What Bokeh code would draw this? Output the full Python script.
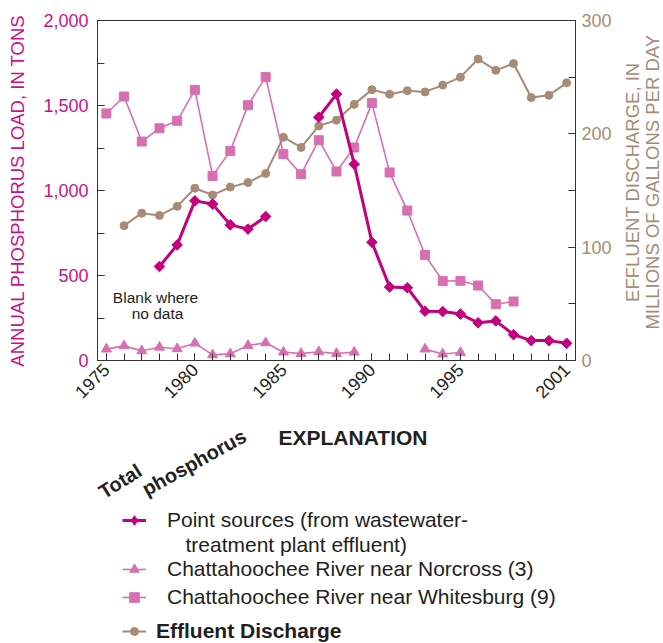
import math
from bokeh.plotting import figure
from bokeh.layouts import column, row
from bokeh.models import (Range1d, LinearAxis, FixedTicker, NumeralTickFormatter,
                          Label, Legend, LegendItem)
from bokeh.embed import file_html
from bokeh.resources import INLINE

nan = float("nan")

# ---------------- data ----------------
years = list(range(1975, 2002))
major_years = [1975, 1980, 1985, 1990, 1995, 2001]

point_sources = [nan, nan, nan, 553, 680, 939, 920, 798, 773, 847, nan, nan,
                 1431, 1567, 1155, 696, 432, 428, 290, 288, 273, 222, 233,
                 152, 117, 117, 101]
norcross = [67, 86, 57, 78, 69, 102, 33, 39, 88, 104, 49, 41, 51, 41, 49,
            nan, nan, nan, 67, 38, 47, nan, nan, nan, nan, nan, nan]
whitesburg = [1453, 1553, 1288, 1366, 1410, 1592, 1086, 1233, 1502, 1667,
              1214, 1096, 1296, 1112, 1253, 1514, 1106, 882, 621, 467, 469,
              441, 331, 347, nan, nan, nan]
effluent = [nan, 119, 130, 128, 136, 152, 146, 153, 157, 165, 197, 188, 207,
            212, 226, 239, 235, 238, 237, 243, 250, 266, 256, 262, 232, 234, 245]

load_ticks = [0, 500, 1000, 1500, 2000]
load_minor = [0, 250, 500, 750, 1000, 1250, 1500, 1750, 2000]
eff_ticks = [0, 100, 200, 300]
eff_minor = [0, 50, 100, 150, 200, 250, 300]

# ---------------- style ----------------
POINT = "#c4007c"
PINK = "#d86fb0"
BROWN = "#a88b76"
MAGENTA_TXT = "#c8128a"
BROWN_TXT = "#a58c79"
DARK = "#231f20"
FONT = "Liberation Sans"

W, H = 663, 643
MAIN_W, MAIN_H = 615, 410

# ---------------- main chart ----------------
p = figure(width=MAIN_W, height=MAIN_H, output_backend="svg", toolbar_location=None,
           x_range=Range1d(1974.5, 2001.5), y_range=Range1d(0, 2000),
           min_border_left=97, min_border_right=40, min_border_top=20,
           min_border_bottom=50)
p.xgrid.visible = False
p.ygrid.visible = False
p.outline_line_color = "#333333"
p.outline_line_width = 1
p.background_fill_color = "white"
p.border_fill_color = "white"

p.extra_y_ranges = {"eff": Range1d(0, 300)}

xa = p.xaxis[0]
xa.ticker = FixedTicker(ticks=major_years, minor_ticks=years)
xa.major_label_orientation = math.pi / 4
xa.major_label_text_font = FONT
xa.major_label_text_font_size = "18px"
xa.major_label_text_color = DARK
xa.major_label_standoff = 6

ya = p.yaxis[0]
ya.ticker = FixedTicker(ticks=load_ticks, minor_ticks=load_minor)
ya.formatter = NumeralTickFormatter(format="0,0")
ya.axis_label = "ANNUAL PHOSPHORUS LOAD, IN TONS"
ya.axis_label_text_color = MAGENTA_TXT
ya.axis_label_text_font = FONT
ya.axis_label_text_font_size = "18.5px"
ya.axis_label_text_font_style = "normal"
ya.axis_label_standoff = 12
ya.major_label_text_color = MAGENTA_TXT
ya.major_label_text_font = FONT
ya.major_label_text_font_size = "18px"
ya.major_label_standoff = 9

ra = LinearAxis(y_range_name="eff")
ra.ticker = FixedTicker(ticks=eff_ticks, minor_ticks=eff_minor)
ra.major_label_text_color = BROWN_TXT
ra.major_label_text_font = FONT
ra.major_label_text_font_size = "18px"
ra.major_label_standoff = 6
p.add_layout(ra, "right")

for ax in (xa, ya, ra):
    ax.axis_line_color = "#333333"
    ax.major_tick_line_color = "#333333"
    ax.minor_tick_line_color = "#333333"
    ax.major_tick_in = 7
    ax.major_tick_out = 0
    ax.minor_tick_in = 7
    ax.minor_tick_out = 0

# series styles
S_EF = dict(color=BROWN)
S_NC = dict(color=PINK)
S_WB = dict(color=PINK)
S_PS = dict(color=POINT)


def series(fig, xs, ys, line_w, marker, size, angle=0.0, **kw):
    rl = fig.line(xs, ys, line_width=line_w, **kw)
    rp = fig.scatter(xs, ys, marker=marker, size=size, angle=angle, **kw)
    return rl, rp


series(p, years, effluent, 2, "circle", 8, y_range_name="eff", **S_EF)
series(p, years, norcross, 1.6, "triangle", 10, **S_NC)
series(p, years, whitesburg, 1.6, "square", 9, **S_WB)
series(p, years, point_sources, 3, "square", 7.5, angle=math.pi / 4, **S_PS)

PX_YEAR = 478 / 27.0
PX_TON = 340 / 2000.0


def dx(px):
    return 1974.5 + (px - 97) / PX_YEAR


def dy(py):
    return (360 - py) / PX_TON


def add_label(fig, text, x, y, size, color=DARK, style="normal", align="center",
              baseline="middle", angle=0.0):
    fig.add_layout(Label(x=x, y=y, text=text, text_font=FONT,
                         text_font_size=size, text_color=color,
                         text_font_style=style, text_align=align,
                         text_baseline=baseline, angle=angle))


add_label(p, "Blank where", dx(155), dy(297), "15.5px")
add_label(p, "no data", dx(157), dy(313), "15.5px")

# ---------------- right strip: right axis title ----------------
strip = figure(width=W - MAIN_W, height=MAIN_H, output_backend="svg",
               toolbar_location=None, x_range=Range1d(MAIN_W, W),
               y_range=Range1d(MAIN_H, 0), x_axis_location=None,
               y_axis_location=None, min_border=0)
strip.outline_line_color = None
strip.xgrid.visible = False
strip.ygrid.visible = False
add_label(strip, "EFFLUENT DISCHARGE, IN", 632, 195, "18.5px", color=BROWN_TXT,
          angle=math.pi / 2)
add_label(strip, "MILLIONS OF GALLONS PER DAY", 651.5, 195, "18.5px",
          color=BROWN_TXT, angle=math.pi / 2)

# ---------------- explanation panel ----------------
ex = figure(width=W, height=H - MAIN_H, output_backend="svg",
            toolbar_location=None, x_range=Range1d(0, W),
            y_range=Range1d(H, MAIN_H), x_axis_location=None,
            y_axis_location=None, min_border=0)
ex.outline_line_color = None
ex.xgrid.visible = False
ex.ygrid.visible = False

add_label(ex, "EXPLANATION", 352.5, 436.5, "21px", style="bold")
add_label(ex, "Total", 100, 493, "20px", style="bold", align="left",
          baseline="alphabetic", angle=math.radians(32))
add_label(ex, "phosphorus", 143, 490, "20px", style="bold", align="left",
          baseline="alphabetic", angle=math.radians(29))
add_label(ex, "treatment plant effluent)", 185, 543.5, "21px", align="left")

# legend proxies (a single missing value: nothing is drawn in the panel)
e_ps = series(ex, [nan], [nan], 3, "diamond", 13, **S_PS)
e_nc = series(ex, [nan], [nan], 1.6, "triangle", 10, **S_NC)
e_wb = series(ex, [nan], [nan], 1.6, "square", 9, **S_WB)
e_ef = series(ex, [nan], [nan], 2, "circle", 8, **S_EF)

leg_ps = Legend(items=[
    LegendItem(label="Point sources (from wastewater-", renderers=list(e_ps)),
], location=(122, 110), orientation="vertical")

leg_riv = Legend(items=[
    LegendItem(label="Chattahoochee River near Norcross (3)", renderers=list(e_nc)),
    LegendItem(label="Chattahoochee River near Whitesburg (9)", renderers=list(e_wb)),
], location=(122, 33), orientation="vertical")

leg_ef = Legend(items=[
    LegendItem(label="Effluent Discharge", renderers=list(e_ef)),
], location=(122, 0), orientation="vertical")

for lg, standoff, style, gh in ((leg_ps, 21, "normal", 26),
                                (leg_riv, 21, "normal", 26),
                                (leg_ef, 10, "bold", 20)):
    lg.label_text_font = FONT
    lg.label_text_font_size = "21px"
    lg.label_text_color = DARK
    lg.label_text_font_style = style
    lg.glyph_width = 24
    lg.glyph_height = gh
    lg.label_height = gh
    lg.label_standoff = standoff
    lg.spacing = 2
    lg.padding = 0
    lg.margin = 0
    lg.border_line_color = None
    lg.background_fill_alpha = 0
    ex.add_layout(lg)

layout = column(row(p, strip), ex)
open("out.html", "w").write(file_html(layout, INLINE))
